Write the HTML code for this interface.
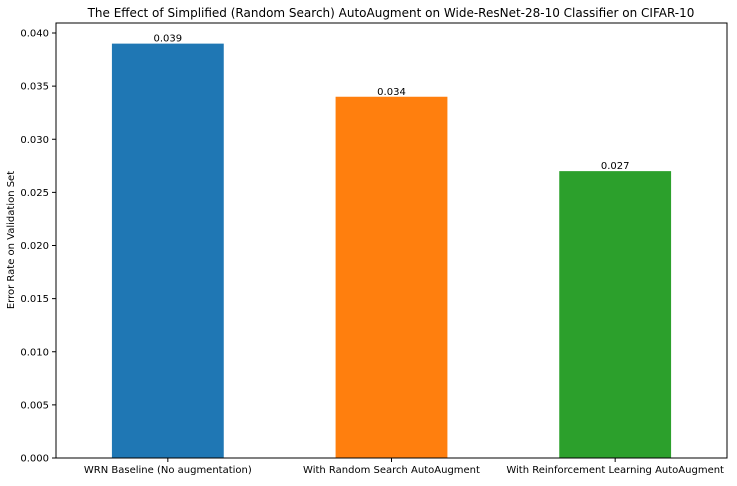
<!DOCTYPE html>
<html><head><meta charset="utf-8"><style>
body{margin:0;background:#fff;font-family:"DejaVu Sans","Liberation Sans",sans-serif;}
svg text{font-family:"DejaVu Sans","Liberation Sans",sans-serif;}
</style></head><body>
<svg id="chart" width="737" height="482" xmlns="http://www.w3.org/2000/svg">
<text x="391" y="17" font-size="12" text-anchor="middle" fill="#000">The Effect of Simplified (Random Search) AutoAugment on Wide-ResNet-28-10 Classifier on CIFAR-10</text>
<text transform="translate(14,240) rotate(-90)" font-size="10" text-anchor="middle" fill="#000">Error Rate on Validation Set</text>
<g id="marks"></g>
<rect x="56" y="23" width="671" height="435" fill="none" stroke="#000" stroke-width="1"/>
</svg>
<script>
const categories = ["WRN Baseline (No augmentation)", "With Random Search AutoAugment", "With Reinforcement Learning AutoAugment"];
const values = [0.039, 0.034, 0.027];
const valueLabels = ["0.039", "0.034", "0.027"];
const yTicks = [0, 0.005, 0.010, 0.015, 0.020, 0.025, 0.030, 0.035, 0.040];
const yTickLabels = ["0.000","0.005","0.010","0.015","0.020","0.025","0.030","0.035","0.040"];
const colors = ["#1f77b4","#ff7f0e","#2ca02c"];

const L=56,R=727,T=23,B=458;
const y = v => B - v/0.040*(B-33);
const step = (R-L)/categories.length;
const x = i => L + step*(i+0.5);
const NS="http://www.w3.org/2000/svg";
const g=document.getElementById('marks');
function mk(tag,attrs){const e=document.createElementNS(NS,tag);for(const k in attrs)e.setAttribute(k,attrs[k]);g.appendChild(e);return e;}
yTicks.forEach((t,i)=>{
  const l=mk('line',{x1:L-4,x2:L,y1:y(t),y2:y(t),stroke:'#000'});
  
  
  const tx=mk('text',{x:L-7,y:y(t)+3.5,'font-size':10,'text-anchor':'end',fill:'#000'});
  tx.textContent=yTickLabels[i];
  
  
});
categories.forEach((c,i)=>{
  const w=step*0.5;
  const r=mk('rect',{x:x(i)-w/2,y:y(values[i]),width:w,height:B-y(values[i]),fill:colors[i]});
  
  
  const v=mk('text',{x:x(i),y:y(values[i])-2,'font-size':10,'text-anchor':'middle',fill:'#000'});
  v.textContent=valueLabels[i];
  
  
  const tk=mk('line',{x1:x(i),x2:x(i),y1:B,y2:B+4,stroke:'#000'});
  
  
  const lb=mk('text',{x:x(i),y:B+15,'font-size':10,'text-anchor':'middle',fill:'#000'});
  lb.textContent=c;
  
  
});
</script>
</body></html>
